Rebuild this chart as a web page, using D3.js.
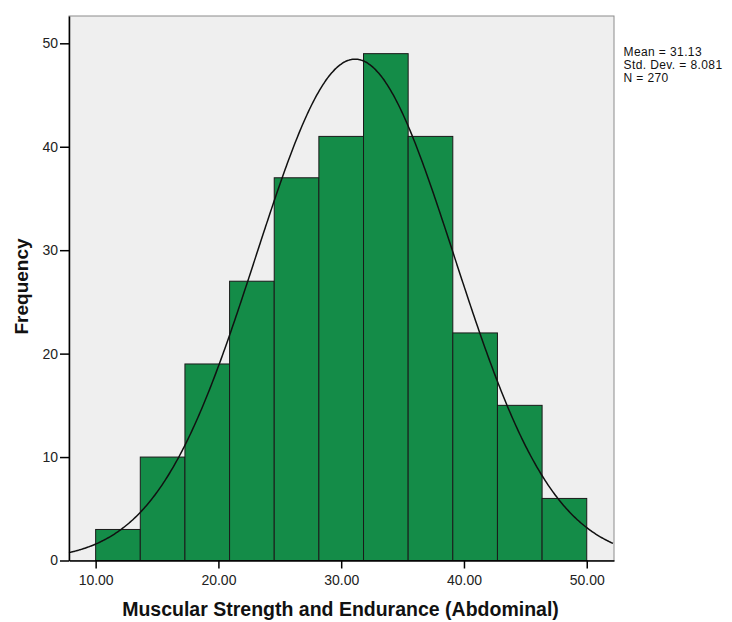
<!DOCTYPE html>
<html>
<head>
<meta charset="utf-8">
<script src="https://cdn.jsdelivr.net/npm/d3@7"></script>
<style>
  body { margin: 0; background: #fff; }
  svg { display: block; }
  text { font-family: Arial, "Liberation Sans", sans-serif; }
</style>
</head>
<body>
<svg id="chart" width="732" height="622"></svg>
<script>
// Data
const binStart = 10.0;
const binEnd = 50.0;
const frequencies = [3, 10, 19, 27, 37, 41, 49, 41, 22, 15, 6];
const xTickValues = [10, 20, 30, 40, 50];
const yTickValues = [0, 10, 20, 30, 40, 50];
const statsLines = ["Mean = 31.13", "Std. Dev. = 8.081", "N = 270"];
const meanValue = 31.13;
const sdValue = 8.081;
const nValue = 270;
const xTitle = "Muscular Strength and Endurance (Abdominal)";
const yTitle = "Frequency";

const svg = d3.select("#chart");
const plot = { left: 69, top: 16, right: 614, bottom: 560.5 };

const x = d3.scaleLinear().domain([7.83, 52.22]).range([plot.left, plot.right]);
const y = d3.scaleLinear().domain([0, 52.64]).range([plot.bottom, plot.top]);

// background
svg.append("rect")
  .attr("x", plot.left).attr("y", plot.top)
  .attr("width", plot.right - plot.left).attr("height", plot.bottom - plot.top)
  .attr("fill", "#efefef").attr("stroke", "#8c8c8c").attr("stroke-width", 1);

const binWidth = (binEnd - binStart) / frequencies.length;
const bins = frequencies.map((f, i) => ({ x0: binStart + i * binWidth, x1: binStart + (i + 1) * binWidth, f }));

svg.append("g").selectAll("rect").data(bins).join("rect")
  .attr("x", d => x(d.x0))
  .attr("y", d => y(d.f))
  .attr("width", d => x(d.x1) - x(d.x0))
  .attr("height", d => y(0) - y(d.f))
  .attr("fill", "#148c48")
  .attr("stroke", "#1a1a1a")
  .attr("stroke-width", 1);

// normal curve
const scaleFactor = nValue * binWidth / (sdValue * Math.sqrt(2 * Math.PI));
const xs = d3.range(x.domain()[0], x.domain()[1] + 0.001, 0.1);
const line = d3.line()
  .x(v => x(v))
  .y(v => y(scaleFactor * Math.exp(-0.5 * Math.pow((v - meanValue) / sdValue, 2))))
  .curve(d3.curveBasis);
svg.append("path").datum(xs)
  .attr("d", line)
  .attr("fill", "none").attr("stroke", "#111").attr("stroke-width", 1.5);

// axes
const xAxis = d3.axisBottom(x).tickValues(xTickValues).tickFormat(d3.format(".2f")).tickSize(8).tickSizeOuter(0);
const gx = svg.append("g").attr("transform", `translate(0,${plot.bottom})`).call(xAxis);
gx.select(".domain").attr("stroke", "#000").attr("stroke-width", 1.5);
gx.selectAll(".tick line").attr("stroke", "#000").attr("stroke-width", 1.5);
gx.selectAll(".tick text").style("font-size", "14px").attr("fill", "#222")
  .attr("y", 24.5).attr("dy", null)
  .style("font-family", "Arial, 'Liberation Sans', sans-serif");

const yAxis = d3.axisLeft(y).tickValues(yTickValues).tickFormat(d3.format("d")).tickSize(9).tickSizeOuter(0);
const gy = svg.append("g").attr("transform", `translate(${plot.left},0)`).call(yAxis);
gy.select(".domain").attr("stroke", "#000").attr("stroke-width", 1.5);
gy.selectAll(".tick line").attr("stroke", "#000").attr("stroke-width", 1.5);
gy.selectAll(".tick text").style("font-size", "14px").attr("fill", "#222").attr("x", -11)
  .style("font-family", "Arial, 'Liberation Sans', sans-serif");

// titles
svg.append("text")
  .attr("x", 340.5).attr("y", 616)
  .attr("text-anchor", "middle")
  .style("font-size", "19.5px").attr("font-weight", "bold").attr("fill", "#111")
  .text(xTitle);

svg.append("text")
  .attr("transform", `translate(28,286.5) rotate(-90)`)
  .attr("text-anchor", "middle")
  .style("font-size", "19px").attr("font-weight", "bold").attr("fill", "#111")
  .text(yTitle);

// stats
svg.append("g").selectAll("text").data(statsLines).join("text")
  .attr("x", 623.5).attr("y", (d, i) => 56 + i * 12.9)
  .style("font-size", "12px").style("letter-spacing", "0.4px").attr("fill", "#111")
  .text(d => d);
</script>
</body>
</html>
